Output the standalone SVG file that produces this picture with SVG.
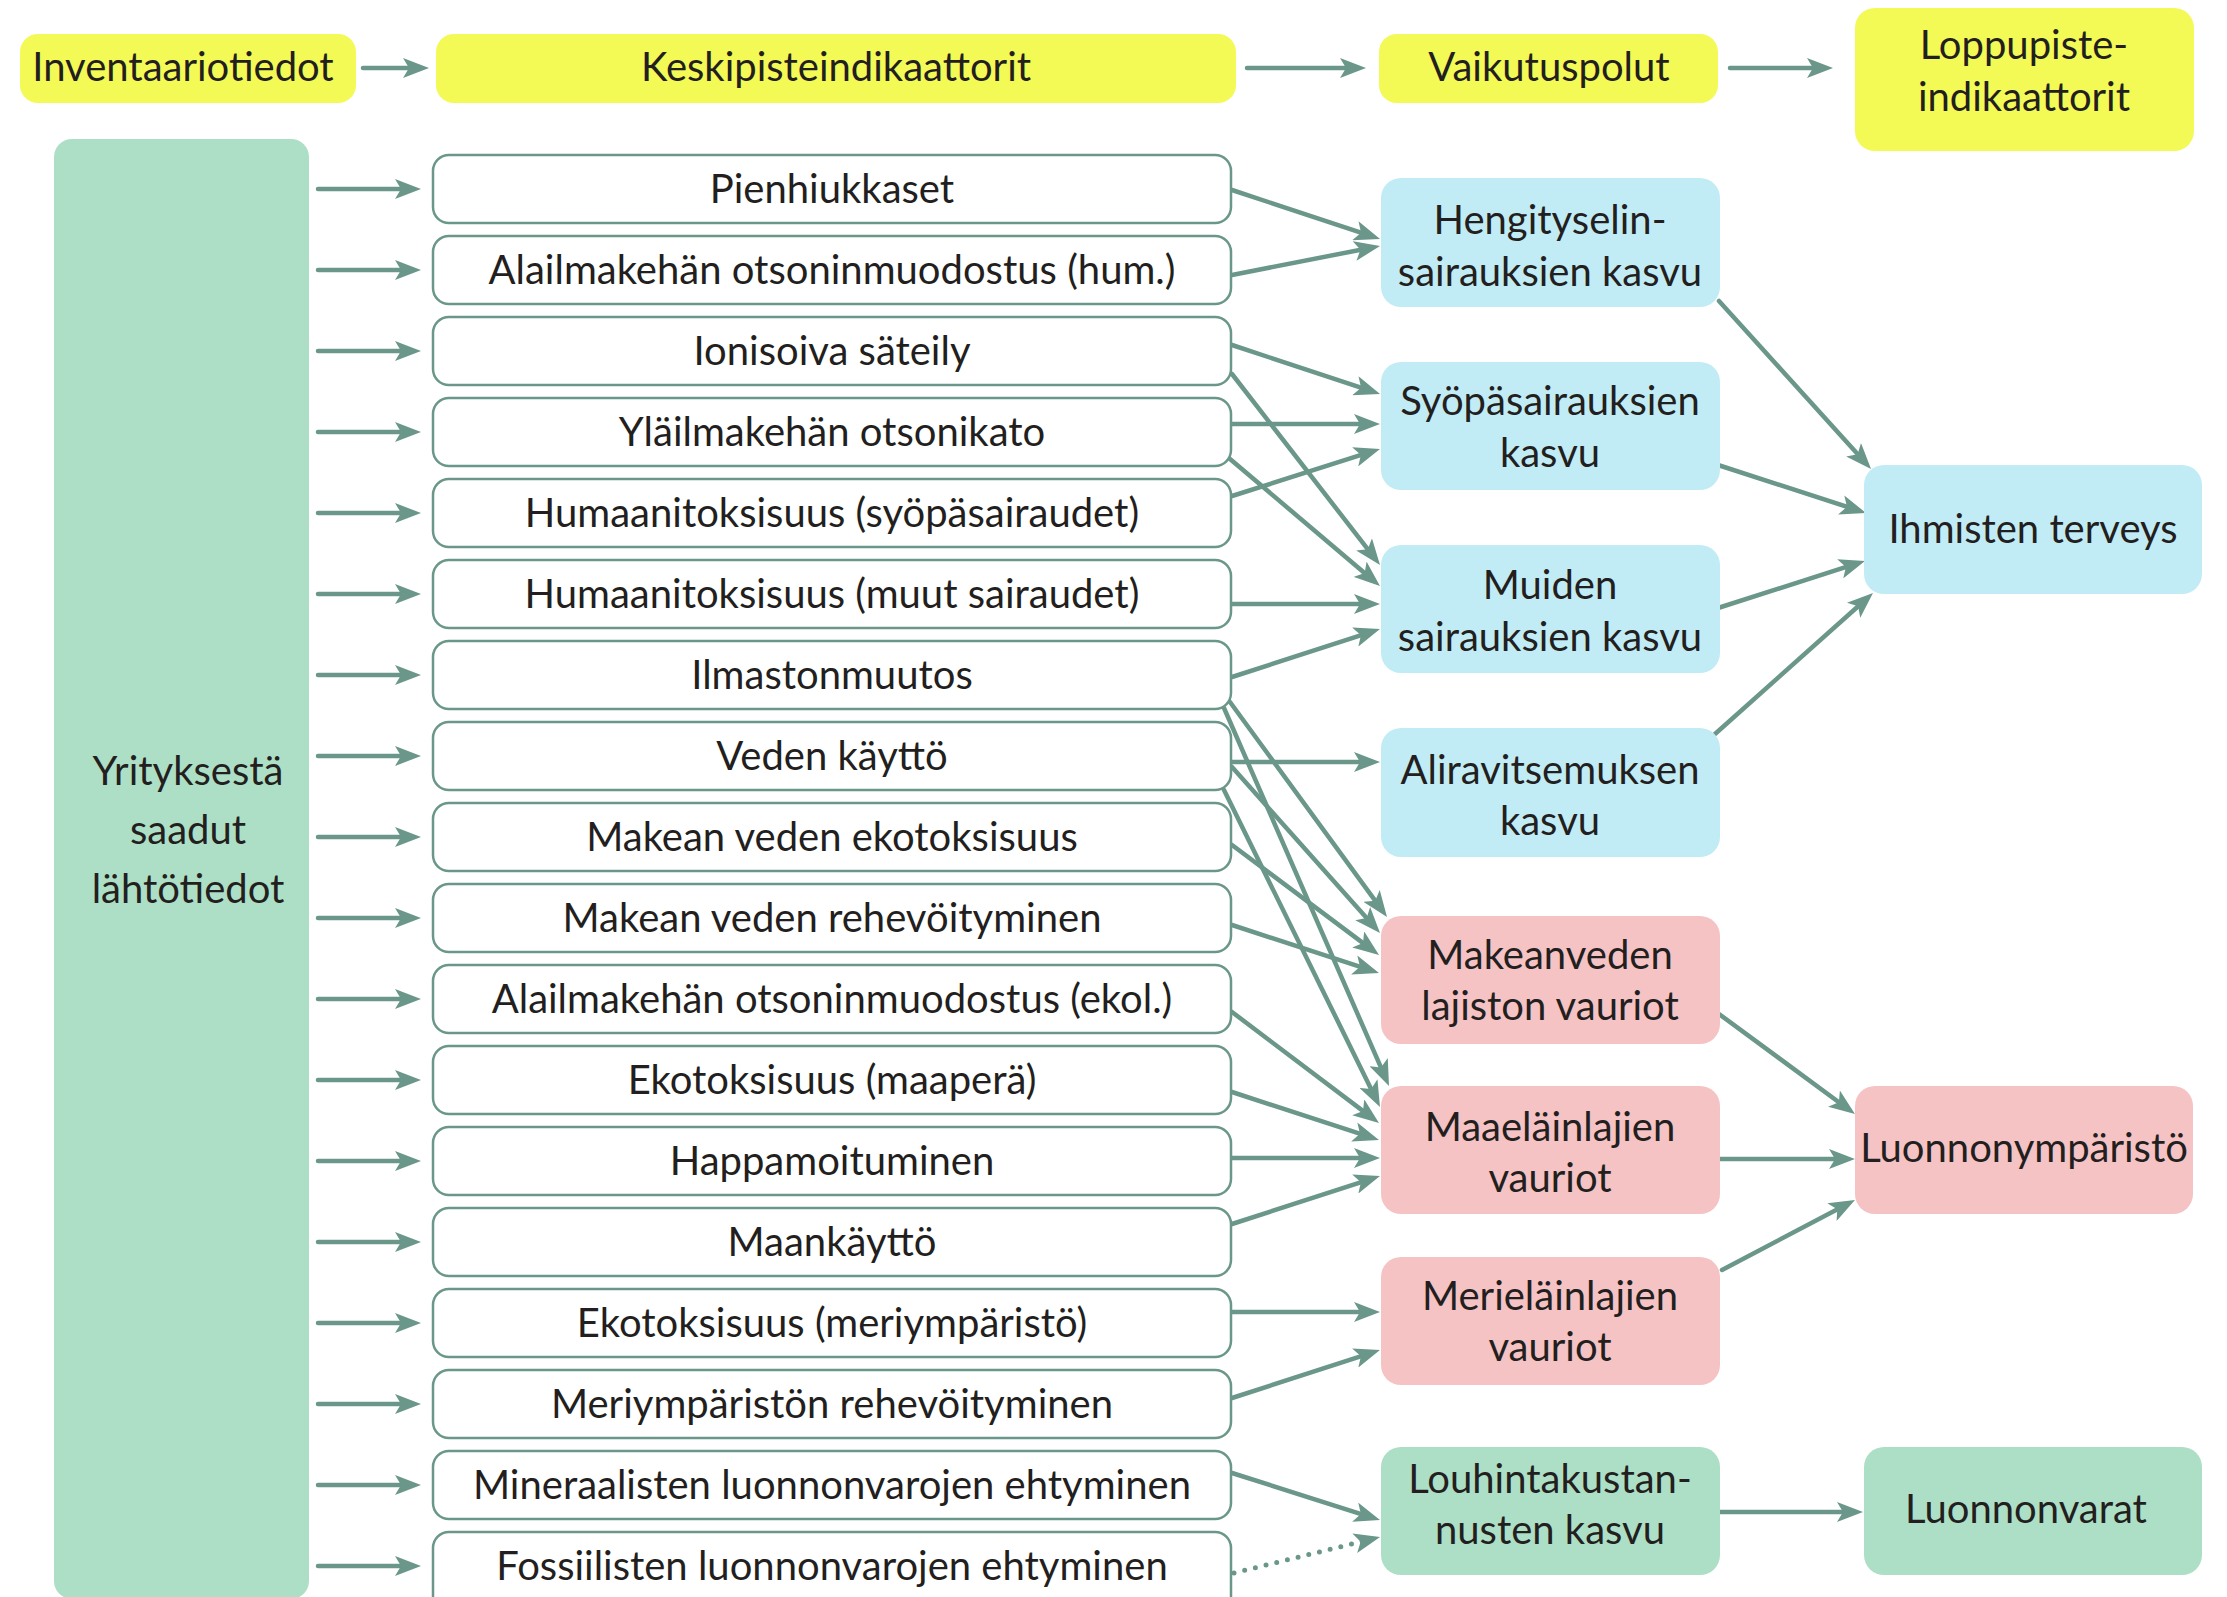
<svg xmlns="http://www.w3.org/2000/svg" width="2227" height="1597" viewBox="0 0 2227 1597">
<style>
text{font-family:Lato,"Liberation Sans",sans-serif;font-size:40px;fill:#231f20;text-anchor:middle}
.y{fill:#f3f955}
.g{fill:#addfc6}
.c{fill:#c2ecf5}
.p{fill:#f5c3c3}
.m{fill:#ffffff;stroke:#6a978a;stroke-width:2.5}
.ln{stroke:#6a978a;stroke-width:4.5;stroke-linecap:round;fill:none;marker-end:url(#ah)}
.dot{stroke-dasharray:0 11;stroke-width:5}
</style>
<defs>
<marker id="ah" markerUnits="userSpaceOnUse" markerWidth="26" markerHeight="20" viewBox="0 0 26 20" refX="17" refY="10" orient="auto">
<path d="M0,0 L26,10 L0,20 L6,10 Z" fill="#6a978a"/>
</marker>
</defs>
<rect width="2227" height="1597" fill="#ffffff"/>

<g id="connectors">
<line class="ln" x1="363" y1="68" x2="420" y2="68"/>
<line class="ln" x1="1247" y1="68" x2="1357" y2="68"/>
<line class="ln" x1="1730" y1="68" x2="1824" y2="68"/>

<line class="ln" x1="318" y1="189" x2="412" y2="189"/>
<line class="ln" x1="318" y1="270" x2="412" y2="270"/>
<line class="ln" x1="318" y1="351" x2="412" y2="351"/>
<line class="ln" x1="318" y1="432" x2="412" y2="432"/>
<line class="ln" x1="318" y1="513" x2="412" y2="513"/>
<line class="ln" x1="318" y1="594" x2="412" y2="594"/>
<line class="ln" x1="318" y1="675" x2="412" y2="675"/>
<line class="ln" x1="318" y1="756" x2="412" y2="756"/>
<line class="ln" x1="318" y1="837" x2="412" y2="837"/>
<line class="ln" x1="318" y1="918" x2="412" y2="918"/>
<line class="ln" x1="318" y1="999" x2="412" y2="999"/>
<line class="ln" x1="318" y1="1080" x2="412" y2="1080"/>
<line class="ln" x1="318" y1="1161" x2="412" y2="1161"/>
<line class="ln" x1="318" y1="1242" x2="412" y2="1242"/>
<line class="ln" x1="318" y1="1323" x2="412" y2="1323"/>
<line class="ln" x1="318" y1="1404" x2="412" y2="1404"/>
<line class="ln" x1="318" y1="1485" x2="412" y2="1485"/>
<line class="ln" x1="318" y1="1566" x2="412" y2="1566"/>

<line class="ln" x1="1232" y1="190" x2="1371.5" y2="236.2"/>
<line class="ln" x1="1232" y1="275" x2="1371.2" y2="247.7"/>
<line class="ln" x1="1232" y1="345" x2="1371.5" y2="391.2"/>
<line class="ln" x1="1232" y1="374" x2="1374.5" y2="557.9"/>
<line class="ln" x1="1232" y1="424" x2="1371" y2="424"/>
<line class="ln" x1="1230" y1="459" x2="1373.1" y2="580.2"/>
<line class="ln" x1="1232" y1="496" x2="1371.4" y2="451.7"/>
<line class="ln" x1="1232" y1="604" x2="1371" y2="604"/>
<line class="ln" x1="1232" y1="677" x2="1371.4" y2="631.8"/>
<line class="ln" x1="1230" y1="702" x2="1381.7" y2="909.7"/>
<line class="ln" x1="1224" y1="708" x2="1385.4" y2="1077.7"/>
<line class="ln" x1="1232" y1="762" x2="1371" y2="762"/>
<line class="ln" x1="1232" y1="767" x2="1374" y2="926.3"/>
<line class="ln" x1="1224" y1="790" x2="1376" y2="1098.9"/>
<line class="ln" x1="1232" y1="845" x2="1371.8" y2="949.6"/>
<line class="ln" x1="1232" y1="925" x2="1370.4" y2="970.2"/>
<line class="ln" x1="1232" y1="1012" x2="1371.8" y2="1117.6"/>
<line class="ln" x1="1232" y1="1092" x2="1370.4" y2="1137.2"/>
<line class="ln" x1="1232" y1="1158" x2="1371" y2="1158"/>
<line class="ln" x1="1232" y1="1224" x2="1371.4" y2="1178.8"/>
<line class="ln" x1="1232" y1="1312" x2="1371" y2="1312"/>
<line class="ln" x1="1232" y1="1398" x2="1371.4" y2="1352.8"/>
<line class="ln" x1="1232" y1="1473" x2="1371.4" y2="1517.3"/>
<line class="ln dot" x1="1234" y1="1573" x2="1371.3" y2="1539.1"/>

<line class="ln" x1="1719" y1="301" x2="1865" y2="462.3"/>
<line class="ln" x1="1718" y1="465" x2="1857.4" y2="510.2"/>
<line class="ln" x1="1718" y1="608" x2="1856.4" y2="563.7"/>
<line class="ln" x1="1715" y1="734" x2="1866.3" y2="599"/>
<line class="ln" x1="1719" y1="1014" x2="1847.7" y2="1108.7"/>
<line class="ln" x1="1720" y1="1159" x2="1846" y2="1159"/>
<line class="ln" x1="1722" y1="1270" x2="1847" y2="1204.2"/>
<line class="ln" x1="1720" y1="1512" x2="1854" y2="1512"/>
</g>

<g id="h-inventaario"><rect class="y" x="20" y="34" width="336" height="69" rx="18"/><text x="183" y="81">Inventaariotiedot</text></g>
<g id="h-keskipiste"><rect class="y" x="436" y="34" width="800" height="69" rx="18"/><text x="836" y="81">Keskipisteindikaattorit</text></g>
<g id="h-vaikutus"><rect class="y" x="1379" y="34" width="339" height="69" rx="18"/><text x="1549" y="81">Vaikutuspolut</text></g>
<g id="h-loppu"><rect class="y" x="1855" y="8" width="339" height="143" rx="20"/><text x="2024" y="59">Loppupiste-</text><text x="2024" y="111">indikaattorit</text></g>

<g id="yritys"><rect class="g" x="54" y="139" width="255" height="1460" rx="18"/><text x="188" y="785">Yrityksestä</text><text x="188" y="844">saadut</text><text x="188" y="903">lähtötiedot</text></g>

<g id="m0"><rect class="m" x="433" y="155" width="798" height="68" rx="16"/><text x="832" y="203">Pienhiukkaset</text></g>
<g id="m1"><rect class="m" x="433" y="236" width="798" height="68" rx="16"/><text x="832" y="284">Alailmakehän otsoninmuodostus (hum.)</text></g>
<g id="m2"><rect class="m" x="433" y="317" width="798" height="68" rx="16"/><text x="832" y="365">Ionisoiva säteily</text></g>
<g id="m3"><rect class="m" x="433" y="398" width="798" height="68" rx="16"/><text x="832" y="446">Yläilmakehän otsonikato</text></g>
<g id="m4"><rect class="m" x="433" y="479" width="798" height="68" rx="16"/><text x="832" y="527">Humaanitoksisuus (syöpäsairaudet)</text></g>
<g id="m5"><rect class="m" x="433" y="560" width="798" height="68" rx="16"/><text x="832" y="608">Humaanitoksisuus (muut sairaudet)</text></g>
<g id="m6"><rect class="m" x="433" y="641" width="798" height="68" rx="16"/><text x="832" y="689">Ilmastonmuutos</text></g>
<g id="m7"><rect class="m" x="433" y="722" width="798" height="68" rx="16"/><text x="832" y="770">Veden käyttö</text></g>
<g id="m8"><rect class="m" x="433" y="803" width="798" height="68" rx="16"/><text x="832" y="851">Makean veden ekotoksisuus</text></g>
<g id="m9"><rect class="m" x="433" y="884" width="798" height="68" rx="16"/><text x="832" y="932">Makean veden rehevöityminen</text></g>
<g id="m10"><rect class="m" x="433" y="965" width="798" height="68" rx="16"/><text x="832" y="1013">Alailmakehän otsoninmuodostus (ekol.)</text></g>
<g id="m11"><rect class="m" x="433" y="1046" width="798" height="68" rx="16"/><text x="832" y="1094">Ekotoksisuus (maaperä)</text></g>
<g id="m12"><rect class="m" x="433" y="1127" width="798" height="68" rx="16"/><text x="832" y="1175">Happamoituminen</text></g>
<g id="m13"><rect class="m" x="433" y="1208" width="798" height="68" rx="16"/><text x="832" y="1256">Maankäyttö</text></g>
<g id="m14"><rect class="m" x="433" y="1289" width="798" height="68" rx="16"/><text x="832" y="1337">Ekotoksisuus (meriympäristö)</text></g>
<g id="m15"><rect class="m" x="433" y="1370" width="798" height="68" rx="16"/><text x="832" y="1418">Meriympäristön rehevöityminen</text></g>
<g id="m16"><rect class="m" x="433" y="1451" width="798" height="68" rx="16"/><text x="832" y="1499">Mineraalisten luonnonvarojen ehtyminen</text></g>
<g id="m17"><rect class="m" x="433" y="1532" width="798" height="80" rx="16"/><text x="832" y="1580">Fossiilisten luonnonvarojen ehtyminen</text></g>

<g id="e-hengitys"><rect class="c" x="1381" y="178" width="339" height="129" rx="20"/><text x="1550" y="234">Hengityselin-</text><text x="1550" y="286">sairauksien kasvu</text></g>
<g id="e-syopa"><rect class="c" x="1381" y="362" width="339" height="128" rx="20"/><text x="1550" y="415">Syöpäsairauksien</text><text x="1550" y="467">kasvu</text></g>
<g id="e-muiden"><rect class="c" x="1381" y="545" width="339" height="128" rx="20"/><text x="1550" y="599">Muiden</text><text x="1550" y="651">sairauksien kasvu</text></g>
<g id="e-alirav"><rect class="c" x="1381" y="728" width="339" height="129" rx="20"/><text x="1550" y="784">Aliravitsemuksen</text><text x="1550" y="835">kasvu</text></g>
<g id="e-makean"><rect class="p" x="1381" y="916" width="339" height="128" rx="20"/><text x="1550" y="969">Makeanveden</text><text x="1550" y="1020">lajiston vauriot</text></g>
<g id="e-maa"><rect class="p" x="1381" y="1086" width="339" height="128" rx="20"/><text x="1550" y="1141">Maaeläinlajien</text><text x="1550" y="1192">vauriot</text></g>
<g id="e-meri"><rect class="p" x="1381" y="1257" width="339" height="128" rx="20"/><text x="1550" y="1310">Merieläinlajien</text><text x="1550" y="1361">vauriot</text></g>
<g id="e-louhinta"><rect class="g" x="1381" y="1447" width="339" height="128" rx="20"/><text x="1550" y="1493">Louhintakustan-</text><text x="1550" y="1544">nusten kasvu</text></g>

<g id="x-ihmiset"><rect class="c" x="1864" y="465" width="338" height="129" rx="20"/><text x="2033" y="543">Ihmisten terveys</text></g>
<g id="x-luonto"><rect class="p" x="1855" y="1086" width="338" height="128" rx="20"/><text x="2024" y="1162">Luonnonympäristö</text></g>
<g id="x-varat"><rect class="g" x="1864" y="1447" width="338" height="128" rx="20"/><text x="2026" y="1523">Luonnonvarat</text></g>
</svg>
